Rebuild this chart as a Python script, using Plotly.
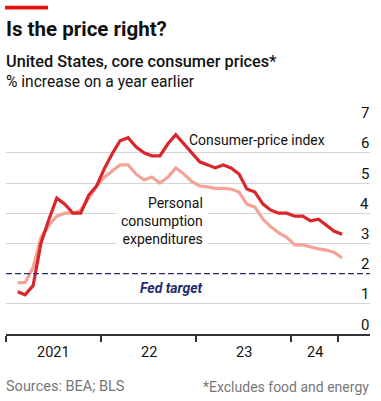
import plotly.graph_objects as go
import pandas as pd

# ---------------- data ----------------
months = pd.date_range("2021-01-15", periods=42, freq="MS") + pd.Timedelta(days=14)
cpi = [1.4, 1.3, 1.6, 3.0, 3.8, 4.5, 4.3, 4.0, 4.0, 4.6, 4.9, 5.5,
       6.0, 6.4, 6.5, 6.2, 6.0, 5.9, 5.9, 6.3, 6.6, 6.3, 6.0, 5.7,
       5.6, 5.5, 5.6, 5.5, 5.3, 4.8, 4.7, 4.3, 4.1, 4.0, 4.0, 3.9,
       3.9, 3.75, 3.8, 3.6, 3.4, 3.3]
pce = [1.7, 1.7, 2.2, 3.2, 3.6, 3.9, 4.0, 4.0, 4.1, 4.5, 4.9, 5.2,
       5.4, 5.6, 5.6, 5.3, 5.1, 5.2, 5.0, 5.2, 5.5, 5.3, 5.05, 4.9,
       4.87, 4.82, 4.82, 4.8, 4.7, 4.3, 4.2, 3.8, 3.55, 3.35, 3.2, 2.95,
       2.95, 2.88, 2.82, 2.78, 2.7, 2.52]
fed_target = 2
x_tick_dates = ["2021-01-01", "2022-01-01", "2023-01-01", "2024-01-01", "2024-07-01"]
x_tick_labels = ["2021", "22", "23", "24"]
y_tick_vals = [0, 1, 2, 3, 4, 5, 6, 7]
y_grid_vals = [1, 3, 4, 5, 6, 7]

# ---------------- layout geometry ----------------
W, H = 381, 401
ML, MR, MT, MB = 6, 11, 121.7, 66.7
PW, PH = W - ML - MR, H - MT - MB
YMAX = 7.02

def px(x):
    return (x - ML) / PW

def py(y):
    return (H - MB - y) / PH

FONT = "Roboto"
CPI_COL = "#D9262B"
PCE_COL = "#F3A496"
NAVY = "#252A6E"
GREY = "#777777"

fig = go.Figure()
fig.add_trace(go.Scatter(x=months, y=pce, mode="lines",
                         line=dict(color=PCE_COL, width=3.2), hoverinfo="skip"))
fig.add_trace(go.Scatter(x=months, y=cpi, mode="lines",
                         line=dict(color=CPI_COL, width=3.2), hoverinfo="skip"))

fig.add_shape(type="line", xref="paper", yref="y", x0=0, x1=1,
              y0=fed_target, y1=fed_target,
              line=dict(color=NAVY, width=1.3, dash="6px,3px"))
fig.add_shape(type="rect", xref="paper", yref="paper",
              x0=px(5), x1=px(48), y0=py(5), y1=py(9),
              line=dict(width=0), fillcolor="#E3120B")

ann = []
def text(x, y, s, size, color="#111111", xanchor="left", yanchor="middle",
         weight=None, style=None, **kw):
    f = dict(family=FONT, size=size, color=color)
    if weight:
        f["weight"] = weight
    if style:
        f["style"] = style
    ann.append(dict(x=px(x), y=py(y), xref="paper", yref="paper", text=s,
                    showarrow=False, xanchor=xanchor, yanchor=yanchor,
                    font=f, **kw))

text(4, 28.5, "Is the price right?", 20.5, weight="bold")
text(4, 61, "United States, core consumer prices*", 16.3, weight=500)
text(4, 82, "% increase on a year earlier", 15.6)
text(4, 387, "Sources: BEA; BLS", 14.5, color=GREY)
text(371, 387, "*Excludes food and energy", 14, color=GREY, xanchor="right")

for v in y_tick_vals:
    text(371, H - MB - v * PH / YMAX - 9.5, str(v), 15, xanchor="right")

# x labels centred between ticks
td = pd.to_datetime(x_tick_dates)
for i, lab in enumerate(x_tick_labels):
    mid = td[i] + (td[i + 1] - td[i]) / 2
    ann.append(dict(x=mid, y=py(353), xref="x", yref="paper", text=lab,
                    showarrow=False, xanchor="center", yanchor="middle",
                    font=dict(family=FONT, size=14.5, color="#111111")))

text(187, 140, "Consumer-price index", 14)
text(207.5, 221, "Personal<br>consumption<br>expenditures", 14, xanchor="right",
     align="right", bgcolor="white", borderpad=4)
text(205, 288.5, "Fed target", 14, color=NAVY, xanchor="right",
     weight="bold", style="italic")

fig.update_layout(
    width=W, height=H, margin=dict(l=ML, r=MR, t=MT, b=MB),
    paper_bgcolor="white", plot_bgcolor="white", showlegend=False,
    annotations=ann,
    xaxis=dict(range=["2021-01-01", "2024-10-30"], tickvals=x_tick_dates,
               ticktext=[""] * len(x_tick_dates), ticks="outside", ticklen=6,
               tickwidth=1.5, tickcolor="#333333", showline=True,
               linecolor="#333333", linewidth=1.5, showgrid=False,
               zeroline=False, fixedrange=True),
    yaxis=dict(range=[0, YMAX], tickvals=y_grid_vals, showticklabels=False,
               showgrid=True, gridcolor="#D4D4D4", gridwidth=1,
               zeroline=False, showline=False, fixedrange=True),
)
fig.write_html("out.html", config={"displayModeBar": False},
               post_script="document.body.style.margin='0';"
                           "document.body.style.overflow='hidden';")
